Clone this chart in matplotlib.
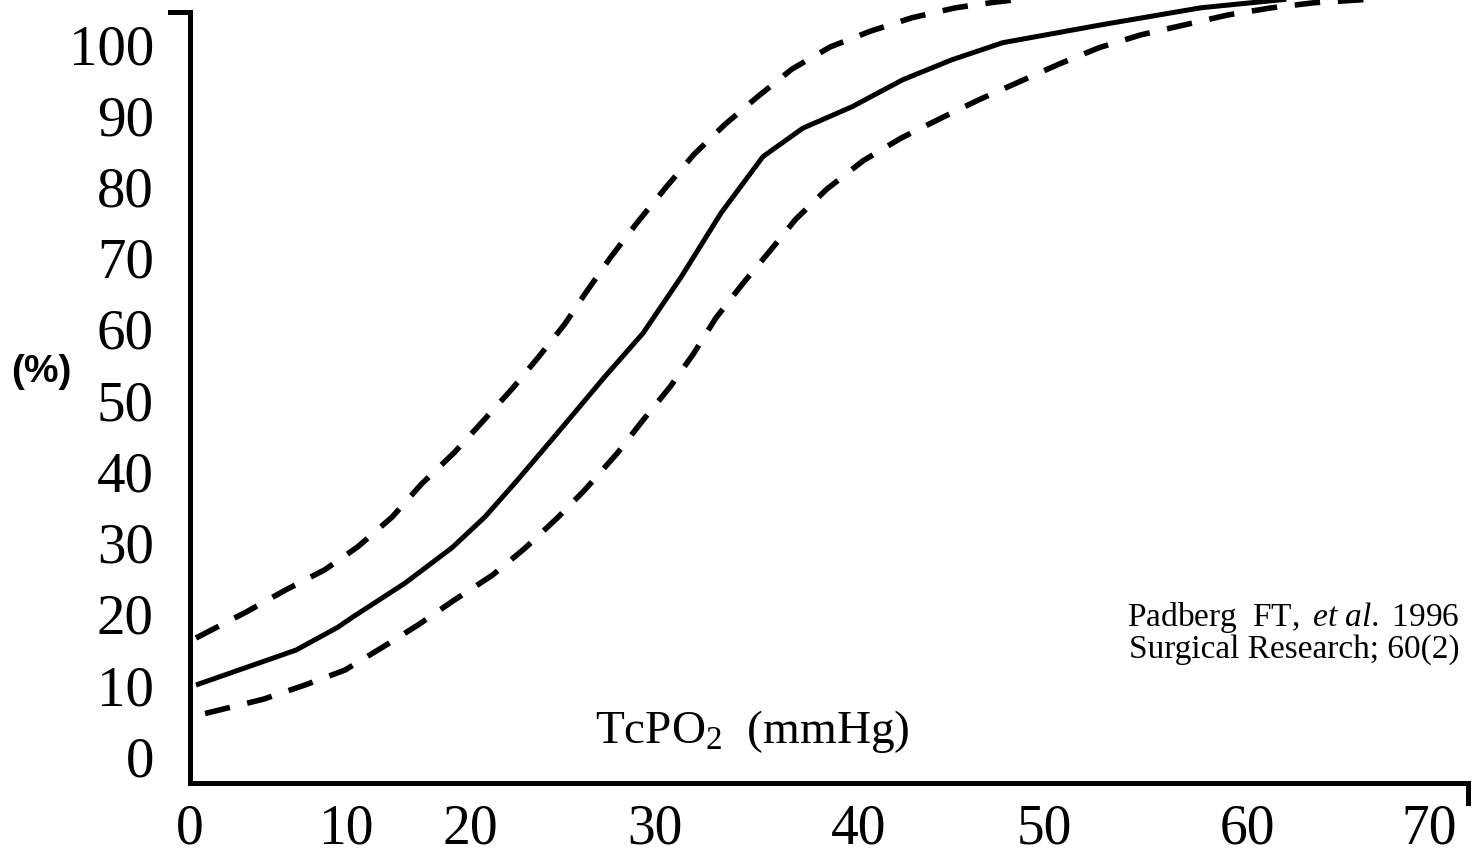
import numpy as np
import matplotlib.pyplot as plt

plt.rcParams['font.family'] = 'Liberation Serif'
plt.rcParams['mathtext.fontset'] = 'custom'
plt.rcParams['mathtext.rm'] = 'Liberation Serif'
plt.rcParams['mathtext.it'] = 'Liberation Serif:italic'

# mean curve (solid)
x_mid = [0, 5.5, 7.8, 8.6, 11.5, 14.1, 15.9, 17.7, 19.7, 22.5, 24.6, 26.7, 28.9,
         31.2, 33.4, 36.1, 38.9, 41.6, 44.4, 49.8, 55.3, 60.0]
y_mid = [10.0, 14.9, 18.1, 19.5, 24.3, 29.3, 33.6, 38.8, 44.8, 53.3, 59.4, 67.3, 76.3,
         84.2, 88.2, 91.2, 95.0, 97.8, 100.2, 102.7, 105.1, 106.3]

# upper bound (dashed)
x_up = [0, 2.8, 4.9, 7.1, 8.9, 10.8, 12.4, 14.2, 15.7, 17.4, 18.8, 20.3, 21.4, 22.8,
        24.3, 25.9, 27.4, 29.1, 30.9, 32.8, 34.9, 37.1, 39.4, 41.8, 44.0, 46.0]
y_up = [16.6, 20.3, 23.3, 26.2, 29.4, 33.6, 38.2, 42.6, 46.8, 51.6, 55.9, 60.7, 64.9, 70.0,
        75.0, 80.0, 84.5, 88.7, 92.6, 96.5, 99.6, 101.8, 103.7, 105.1, 105.9, 106.5]

# lower bound (dashed)
x_lo = [0.5, 3.7, 6.0, 8.2, 10.2, 12.2, 14.2, 16.3, 18.1, 19.9, 21.4, 23.2, 24.6, 26.1,
        27.4, 28.6, 30.1, 31.6, 33.0, 34.7, 36.7, 38.8, 41.0, 43.1, 45.3, 47.5, 49.7,
        52.0, 54.4, 56.8, 59.2, 61.5, 64.0, 66.0]
y_lo = [6.0, 8.0, 10.0, 12.1, 15.2, 18.4, 21.9, 25.4, 29.2, 33.5, 37.4, 42.6, 47.2, 51.9,
        56.6, 61.5, 66.4, 71.0, 75.4, 79.6, 83.6, 86.8, 89.6, 92.2, 94.7, 97.2, 99.5,
        101.3, 102.7, 104.1, 105.1, 105.8, 106.2, 106.6]

y_ticks = [0, 10, 20, 30, 40, 50, 60, 70, 80, 90, 100]
# the x labels in the original sit off their true positions
x_tick_pos = [-0.33, 8.27, 15.12, 25.25, 36.48, 46.66, 57.84, 67.87]
x_tick_lab = ['0', '10', '20', '30', '40', '50', '60', '70']

fig = plt.figure(figsize=(14.83, 8.61), dpi=100)
ax = fig.add_axes([0.1281, 0.0906, 0.8618, 0.8954])

ax.plot(x_mid, y_mid, color='black', lw=3.6, solid_capstyle='butt',
        solid_joinstyle='round', clip_on=False)
for xs, ys in [(x_up, y_up), (x_lo, y_lo)]:
    ax.plot(xs, ys, color='black', lw=4, dashes=(4.6, 3.2), dash_capstyle='butt',
            dash_joinstyle='round', clip_on=False)

ax.set_xlim(0, 70)
ax.set_ylim(-3.76, 104.5)

for s in ['top', 'right']:
    ax.spines[s].set_visible(False)
for s in ['left', 'bottom']:
    ax.spines[s].set_linewidth(3.6)
    ax.spines[s].set_capstyle('projecting')

# little end caps on the axes
ax.plot([-0.0156, 0], [1, 1], transform=ax.transAxes, color='black', lw=3.6,
        solid_capstyle='projecting', clip_on=False)
ax.plot([1, 1], [0, -0.026], transform=ax.transAxes, color='black', lw=3.6,
        solid_capstyle='projecting', clip_on=False)

ax.set_yticks(y_ticks)
ax.set_yticklabels([str(v) for v in y_ticks])
ax.set_xticks(x_tick_pos)
ax.set_xticklabels(x_tick_lab)
ax.tick_params(axis='y', length=0, pad=26, labelsize=41)
ax.tick_params(axis='x', length=0, pad=15, labelsize=40)

ax.text(0.44, 0.052, r'TcPO$_\mathrm{2}$  (mmHg)', transform=ax.transAxes,
        ha='center', va='baseline', fontsize=34)
ax.text(0.9937, 0.2036, r'$\mathrm{Padberg\ \ FT,}\ \mathit{et\ al.}\ \mathrm{1996}$',
        transform=ax.transAxes, ha='right', va='baseline', fontsize=24)
ax.text(0.9937, 0.1621, 'Surgical Research; 60(2)', transform=ax.transAxes,
        ha='right', va='baseline', fontsize=24)

fig.text(0.0276, 0.568, '(%)', family='Liberation Sans', fontweight='bold',
         fontsize=28, ha='center', va='center')

fig.savefig('out.png', dpi=100)
